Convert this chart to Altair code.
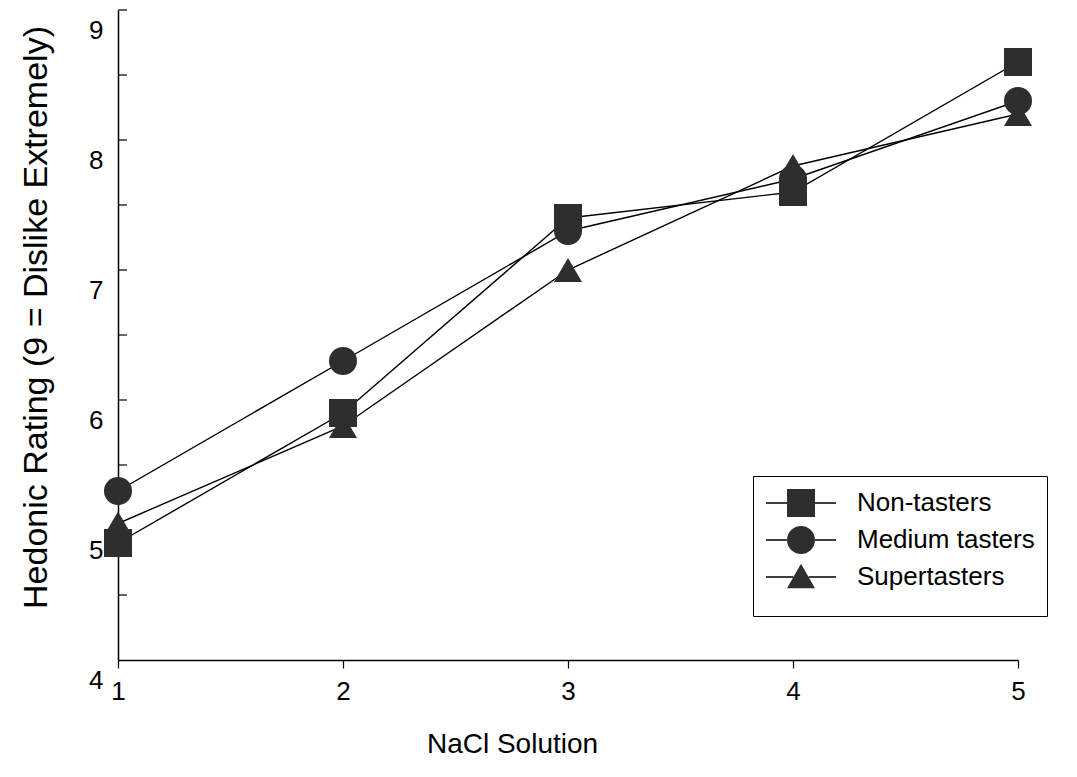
import altair as alt
import pandas as pd

# NaCl concentration steps and mean hedonic ratings per taster group
concentration = [1, 2, 3, 4, 5]
series_names = ["Non-tasters", "Medium tasters", "Supertasters"]
non_tasters = [4.9, 5.9, 7.4, 7.6, 8.6]
medium_tasters = [5.3, 6.3, 7.3, 7.7, 8.3]
supertasters = [5.05, 5.8, 7.0, 7.8, 8.2]

y_label_values = [4, 5, 6, 7, 8, 9]
y_tick_values = [4.5, 5, 5.5, 6, 6.5, 7, 7.5, 8, 8.5, 9]

rows = []
for name, vals in zip(series_names, [non_tasters, medium_tasters, supertasters]):
    for c, v in zip(concentration, vals):
        rows.append({"series": name, "nacl": c, "rating": v})
df = pd.DataFrame(rows)
ticks_df = pd.DataFrame({"tick": y_tick_values})

FONT = "Liberation Sans"
INK = "#2e2e2e"

x_scale = alt.Scale(domain=[1, 5], nice=False, zero=False)
y_scale = alt.Scale(domain=[4, 9], nice=False, zero=False)

x_axis = alt.Axis(
    values=concentration, format="d", title="NaCl Solution",
    tickSize=8, labelPadding=10, labelFontSize=26, labelFlush=False,
    titleFontSize=28, titleFontWeight="normal", titlePadding=26,
    titleX=394, titleAlign="center", grid=False,
)
y_axis = alt.Axis(
    values=y_label_values, format="d", title="Hedonic Rating (9 = Dislike Extremely)",
    ticks=False, tickSize=0, labelPadding=15, labelOffset=20, labelFontSize=26,
    labelFlush=False, titleFontSize=34, titleFontWeight="normal",
    titleAngle=-90, titleAlign="center", titleBaseline="middle",
    titleX=-82, titleY=307, grid=False,
)

base = alt.Chart(df)

lines = base.mark_line(color="black", strokeWidth=1.4).encode(
    x=alt.X("nacl:Q", scale=x_scale, axis=x_axis),
    y=alt.Y("rating:Q", scale=y_scale, axis=y_axis),
    detail="series:N",
)

points = base.mark_point(filled=True, color=INK, opacity=1).encode(
    x="nacl:Q",
    y="rating:Q",
    shape=alt.Shape(
        "series:N",
        scale=alt.Scale(domain=series_names, range=["square", "circle", "triangle-up"]),
        legend=None,
    ),
    size=alt.Size(
        "series:N",
        scale=alt.Scale(domain=series_names, range=[784, 784, 700]),
        legend=None,
    ),
)

# inward-pointing ticks on the rating axis
inner_ticks = alt.Chart(ticks_df).mark_rule(color="black", strokeWidth=1.2).encode(
    y=alt.Y("tick:Q", scale=y_scale),
    x=alt.value(0),
    x2=alt.value(9),
)

# legend: filled marker symbols, plus a second stroked legend drawing the
# line segments on either side of each marker at the same spot
marker_paths = [
    "M-0.4,-0.4H0.4V0.4H-0.4Z",
    "M-0.4,0A0.4,0.4 0 1,1 0.4,0A0.4,0.4 0 1,1 -0.4,0Z",
    "M0,-0.38L0.4,0.32L-0.4,0.32Z",
]
stub_paths = [
    "M-1,0H-0.4M0.4,0H1",
    "M-1,0H-0.4M0.4,0H1",
    "M-1,0H-0.22M0.22,0H1",
]

legend_common = dict(
    title=" ", titleOrient="bottom", titleFontSize=8, titlePadding=4,
    orient="none", legendX=635, legendY=466, padding=12, symbolSize=4900,
    labelFontSize=26, labelFont=FONT, labelColor="black",
    labelLimit=400, labelOffset=20, rowPadding=7, clipHeight=30,
)

legend_markers = base.mark_point(filled=True, color=INK, opacity=1).encode(
    x="nacl:Q",
    y="rating:Q",
    shape=alt.Shape(
        "series:N",
        scale=alt.Scale(domain=series_names, range=marker_paths),
        legend=alt.Legend(strokeColor="black", symbolFillColor=INK, **legend_common),
    ),
).transform_filter(alt.datum.rating < 0)

legend_stubs = base.mark_point(filled=False, color="black", strokeWidth=1.5, opacity=1).encode(
    x="nacl:Q",
    y="rating:Q",
    shape=alt.Shape(
        "series_line:N",
        scale=alt.Scale(domain=series_names, range=stub_paths),
        legend=alt.Legend(
            strokeColor="transparent", labelOpacity=0,
            symbolStrokeColor="black", symbolStrokeWidth=1.5, **legend_common
        ),
    ),
).transform_calculate(series_line="datum.series").transform_filter(alt.datum.rating < 0)

chart = (
    alt.layer(lines, inner_ticks, points, legend_markers, legend_stubs)
    .resolve_scale(shape="independent", size="independent")
    .properties(
        width=900, height=650,
        background="white",
        autosize=alt.AutoSizeParams(type="none"),
        padding={"left": 118, "top": 10, "right": 59, "bottom": 117},
    )
    .configure_view(stroke=None)
    .configure_axis(
        labelFont=FONT, titleFont=FONT, labelColor="black", titleColor="black",
        domainColor="black", domainWidth=1.5, tickColor="black", tickWidth=1.2,
        titleFontWeight="normal",
    )
)

chart.save("out.html", embed_options={"renderer": "svg", "actions": False})
